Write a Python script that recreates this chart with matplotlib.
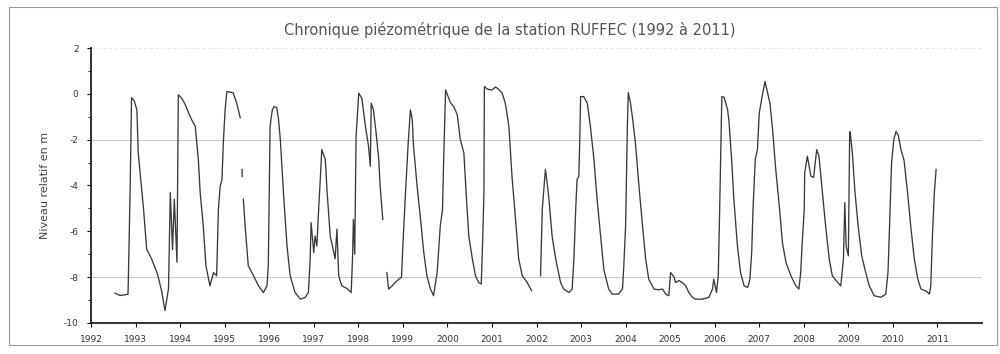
import numpy as np
import matplotlib.pyplot as plt
from matplotlib.patches import Rectangle
from matplotlib.ticker import MultipleLocator

nan = np.nan
plt.rcParams['axes.unicode_minus'] = False

# chronique (annee decimale, niveau relatif en m), nan = lacune
annees = [
    1992.54, 1992.65, 1992.83, 1992.84, 1992.88, 1992.91, 1992.97, 1993.03, 1993.06,
    1993.18, 1993.25, 1993.36, 1993.48, 1993.51, 1993.59, 1993.66, 1993.74, 1993.78,
    1993.83, 1993.87, 1993.93, 1993.96, 1994.04, 1994.11, 1994.19, 1994.26, 1994.34,
    1994.41, 1994.45, 1994.52, 1994.58, 1994.67, 1994.75, 1994.82, 1994.86, 1994.90,
    1994.94, 1994.97, 1995.01, 1995.05, 1995.19, 1995.27, 1995.35, nan,
    1995.39, 1995.395, nan,
    1995.42, 1995.46, 1995.53, 1995.65, 1995.76, 1995.87, 1995.95, 1995.98, 1996.02,
    1996.07, 1996.11, 1996.17, 1996.21, 1996.25, 1996.32, 1996.40, 1996.47, 1996.58,
    1996.70, 1996.81, 1996.88, 1996.92, 1996.94, 1997.00, 1997.03, 1997.07, 1997.11,
    1997.15, 1997.18, 1997.26, 1997.30, 1997.37, 1997.48, 1997.52, 1997.56, 1997.63,
    1997.75, 1997.84, 1997.87, 1997.89, 1997.92, 1997.95, 1998.01, 1998.08, 1998.16,
    1998.23, 1998.27, 1998.29, 1998.34, 1998.40, 1998.46, 1998.49, 1998.55, nan,
    1998.64, 1998.68, 1998.76, 1998.83, 1998.91, 1998.97, 1999.00, 1999.06, 1999.12,
    1999.17, 1999.21, 1999.24, 1999.32, 1999.39, 1999.47, 1999.54, 1999.62, 1999.69,
    1999.77, 1999.84, 1999.89, 1999.92, 1999.96, 2000.03, 2000.07, 2000.14, 2000.22,
    2000.29, 2000.37, 2000.42, 2000.48, 2000.56, 2000.63, 2000.70, 2000.76, 2000.79,
    2000.82, 2000.83, 2000.90, 2001.00, 2001.08, 2001.15, 2001.23, 2001.30, 2001.38,
    2001.45, 2001.53, 2001.60, 2001.68, 2001.79, 2001.89, nan,
    2002.09, 2002.13, 2002.16, 2002.20, 2002.24, 2002.28, 2002.35, 2002.43, 2002.54,
    2002.61, 2002.73, 2002.80, 2002.84, 2002.88, 2002.91, 2002.95, 2002.97, 2002.99,
    2003.06, 2003.14, 2003.21, 2003.29, 2003.36, 2003.44, 2003.51, 2003.62, 2003.70,
    2003.84, 2003.93, 2003.96, 2004.00, 2004.04, 2004.06, 2004.11, 2004.16, 2004.22,
    2004.30, 2004.38, 2004.45, 2004.52, 2004.64, 2004.74, 2004.83, 2004.90, 2004.97,
    2005.01, 2005.09, 2005.12, 2005.20, 2005.27, 2005.35, 2005.42, 2005.50, 2005.57,
    2005.72, 2005.87, 2005.95, 2005.98, 2006.04, 2006.08, 2006.11, 2006.16, 2006.21,
    2006.29, 2006.32, 2006.38, 2006.43, 2006.51, 2006.58, 2006.66, 2006.74, 2006.79,
    2006.83, 2006.86, 2006.91, 2006.96, 2007.00, 2007.07, 2007.13, 2007.18, 2007.24,
    2007.30, 2007.37, 2007.45, 2007.52, 2007.60, 2007.71, 2007.82, 2007.89, 2007.93,
    2007.96, 2008.01, 2008.02, 2008.08, 2008.16, 2008.22, 2008.29, 2008.34, 2008.42,
    2008.49, 2008.57, 2008.64, 2008.76, 2008.83, 2008.89, 2008.92, 2008.95, 2009.00,
    2009.03, 2009.04, 2009.09, 2009.15, 2009.22, 2009.30, 2009.39, 2009.47, 2009.58,
    2009.73, 2009.84, 2009.89, 2009.92, 2009.97, 2010.02, 2010.07, 2010.12, 2010.18,
    2010.25, 2010.33, 2010.40, 2010.48, 2010.56, 2010.63, 2010.74, 2010.82, 2010.85,
    2010.89, 2010.93, 2010.97,
]
niveaux = [
    -8.70, -8.80, -8.75, -7.96, -4.00, -0.17, -0.30, -0.70, -2.57,
    -5.04, -6.78, -7.20, -7.80, -8.00, -8.65, -9.46, -8.50, -4.30,
    -6.80, -4.60, -7.35, -0.04, -0.20, -0.45, -0.83, -1.13, -1.42,
    -2.87, -4.30, -5.77, -7.50, -8.38, -7.80, -7.94, -5.04, -4.03,
    -3.74, -2.14, -0.70, 0.10, 0.05, -0.40, -1.05, nan,
    -3.30, -3.60, nan,
    -4.60, -5.77, -7.50, -7.94, -8.38, -8.67, -8.38, -7.50, -1.42,
    -0.70, -0.55, -0.60, -1.13, -2.00, -4.32, -6.64, -7.94, -8.67,
    -8.96, -8.88, -8.67, -7.20, -5.62, -6.93, -6.20, -6.64, -5.04,
    -3.60, -2.43, -2.87, -4.30, -6.20, -7.20, -5.90, -7.94, -8.38,
    -8.50, -8.67, -7.20, -5.48, -7.00, -1.86, 0.03, -0.20, -1.42,
    -2.29, -3.16, -0.41, -0.70, -1.71, -2.87, -4.03, -5.48, nan,
    -7.80, -8.52, -8.38, -8.23, -8.09, -8.00, -6.64, -4.30, -2.14,
    -0.70, -1.10, -2.29, -4.03, -5.33, -6.93, -7.94, -8.52, -8.81,
    -7.80, -5.77, -5.04, -2.58, 0.17, -0.20, -0.40, -0.55, -0.90,
    -2.00, -2.58, -4.32, -6.20, -7.20, -7.94, -8.23, -8.30, -6.49,
    -4.32, 0.32, 0.20, 0.17, 0.30, 0.20, 0.03, -0.41, -1.42,
    -3.60, -5.48, -7.20, -7.94, -8.23, -8.59, nan,
    -7.94, -5.04, -4.32, -3.30, -3.90, -4.60, -6.20, -7.20, -8.23,
    -8.52, -8.67, -8.52, -7.20, -5.04, -3.74, -3.60, -2.14, -0.12,
    -0.12, -0.41, -1.42, -2.87, -4.60, -6.20, -7.65, -8.52, -8.74,
    -8.74, -8.52, -7.50, -5.77, -1.42, 0.05, -0.41, -1.13, -2.14,
    -4.03, -5.77, -7.20, -8.09, -8.52, -8.55, -8.52, -8.74, -8.81,
    -7.80, -8.00, -8.23, -8.15, -8.23, -8.38, -8.67, -8.88, -8.96,
    -8.96, -8.88, -8.52, -8.09, -8.67, -7.94, -5.19, -0.12, -0.15,
    -0.70, -1.20, -2.87, -4.60, -6.64, -7.80, -8.38, -8.45, -8.10,
    -6.93, -5.04, -2.87, -2.40, -0.84, -0.05, 0.54, 0.10, -0.41,
    -1.57, -3.30, -4.90, -6.49, -7.36, -7.94, -8.38, -8.52, -7.80,
    -6.64, -5.04, -3.45, -2.72, -3.60, -3.65, -2.43, -2.72, -4.32,
    -5.77, -7.20, -7.94, -8.23, -8.38, -7.20, -4.75, -6.64, -7.07,
    -1.71, -1.65, -2.58, -4.32, -5.77, -7.07, -7.80, -8.38, -8.81,
    -8.88, -8.74, -7.80, -6.06, -3.01, -2.00, -1.64, -1.80, -2.43,
    -2.90, -4.32, -5.77, -7.20, -8.09, -8.52, -8.60, -8.74, -8.38,
    -6.06, -4.32, -3.30,
]
annees_ticks = list(range(1992, 2012))

fig = plt.figure(figsize=(10, 3.54), dpi=100)
fig.patches.append(Rectangle((0.009, 0.025), 0.988, 0.955, transform=fig.transFigure,
                             fill=False, edgecolor='#999999', linewidth=0.8))

ax = fig.add_axes([0.091, 0.0876, 0.891, 0.7768])
ax.plot(annees, niveaux, color='#3a3a3a', linewidth=0.95)

for y in (-2, -8):
    ax.axhline(y, color='#c8c8c8', linewidth=0.7, zorder=0)
ax.axhline(2, color='#e2e2e2', linewidth=0.6, linestyle=(0, (4, 3)), zorder=0)

ax.set_xlim(1992, 2012)
ax.set_ylim(-10, 2)
ax.set_xticks(annees_ticks)
ax.set_xticklabels([str(a) for a in annees_ticks])
ax.set_yticks(range(-10, 3, 2))
ax.yaxis.set_minor_locator(MultipleLocator(1))

for s in ('top', 'right'):
    ax.spines[s].set_visible(False)
for s in ('left', 'bottom'):
    ax.spines[s].set_linewidth(1.3)
    ax.spines[s].set_color('#222222')

ax.tick_params(axis='both', which='major', labelsize=6.5, labelcolor='#333333',
               length=3, width=0.8, pad=6)
ax.tick_params(axis='y', which='minor', length=2, width=0.6)

ax.set_ylabel('Niveau relatif en m', fontsize=8, color='#444444', labelpad=10)
fig.text(0.51, 0.915, 'Chronique piézométrique de la station RUFFEC (1992 à 2011)',
         ha='center', va='center', fontsize=10.5, color='#555555')

fig.savefig('out.png', dpi=100)
